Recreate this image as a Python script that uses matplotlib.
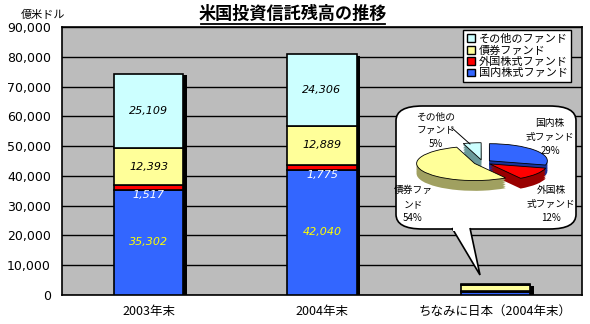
import matplotlib
matplotlib.use("Agg")
import matplotlib.pyplot as plt
from matplotlib.patches import FancyBboxPatch, Polygon, Patch
import numpy as np

plt.rcParams['font.family'] = ['Noto Sans CJK JP', 'DejaVu Sans']

categories = ['2003年末', '2004年末', 'ちなみに日本（2004年末）']
series_names = ['国内株式ファンド', '外国株式ファンド', '債券ファンド', 'その他のファンド']
domestic = [35302, 42040, 1070]
foreign = [1517, 1775, 440]
bond = [12393, 12889, 2000]
other = [25109, 24306, 190]
show_labels = [True, True, False]
colors = ['#3366FF', '#FF0000', '#FFFF99', '#CCFFFF']
label_colors = ['#FFFF00', '#FFFFFF', '#000000', '#000000']

pie_labels = ['国内株\n式ファンド\n29%', '外国株\n式ファンド\n12%', '債券ファ\nンド\n54%', 'その他の\nファンド\n5%']
pie_values = [29, 12, 54, 5]
yticks = [0, 10000, 20000, 30000, 40000, 50000, 60000, 70000, 80000, 90000]

W, H = 590, 324
fig = plt.figure(figsize=(W/100, H/100), dpi=100)
fig.patch.set_facecolor('white')

def fx(px): return px / W
def fy(py): return 1 - py / H

ax = fig.add_axes([fx(62), fy(295), fx(582) - fx(62), fy(27) - fy(295)])
ax.set_facecolor('#bcbcbc')
x = np.arange(len(categories))
width = 0.40
series = [domestic, foreign, bond, other]
totals = np.sum(series, axis=0)

# shadow
ax.bar(x + 0.022, totals - 600, width, bottom=0, color='black', zorder=2)
bottom = np.zeros(len(categories))
for vals, c in zip(series, colors):
    ax.bar(x, vals, width, bottom=bottom, color=c, edgecolor='black', linewidth=1.2, zorder=3)
    bottom += np.array(vals)

# labels
bottom = np.zeros(len(categories))
for si, (vals, lc) in enumerate(zip(series, label_colors)):
    for i in range(len(categories)):
        if not show_labels[i]:
            continue
        v = vals[i]
        if si == 1:
            ax.text(x[i], bottom[i] - 200, f'{v:,}', ha='center', va='top', color=lc,
                    fontsize=8, style='italic', zorder=5, family='DejaVu Sans')
        else:
            ax.text(x[i], bottom[i] + v / 2, f'{v:,}', ha='center', va='center', color=lc,
                    fontsize=8, style='italic', zorder=5, family='DejaVu Sans')
    bottom += np.array(vals)

ax.set_xlim(-0.5, 2.5)
ax.set_ylim(0, 90000)
ax.set_yticks(yticks)
ax.set_yticklabels([f'{t:,}' for t in yticks], fontsize=9, family='DejaVu Sans')
ax.set_xticks(x)
ax.set_xticklabels(categories, fontsize=9)
ax.tick_params(length=0, pad=8)
ax.tick_params(axis='x', pad=7)
ax.yaxis.grid(True, color='black', linewidth=1, zorder=1)
ax.set_axisbelow(True)
for s in ax.spines.values():
    s.set_color('black')
    s.set_linewidth(1.2)

fig.text(fx(293), fy(14), '米国投資信託残高の推移', ha='center', va='center',
         fontsize=12.3, fontweight='bold')
fig.text(fx(21), fy(15), '億米ドル', ha='left', va='center', fontsize=8)
# title underline
fig.add_artist(plt.Line2D([fx(201), fx(385)], [fy(24), fy(24)], color='black', linewidth=1.3))

# legend
handles = [Patch(facecolor=colors[i], edgecolor='black', label=series_names[i]) for i in [3, 2, 1, 0]]
leg = fig.legend(handles=handles, loc='upper left', bbox_to_anchor=(fx(463), fy(30)),
                 fontsize=8, frameon=True, fancybox=False, edgecolor='black', facecolor='white',
                 framealpha=1, handlelength=0.7, handleheight=0.7, handletextpad=0.35, borderpad=0.35,
                 labelspacing=0.12, borderaxespad=0)
leg.get_frame().set_linewidth(1)

# speech bubble
bub = FancyBboxPatch((fx(396), fy(229)), fx(576) - fx(396), fy(106) - fy(229),
                     boxstyle='round,pad=0,rounding_size=0.045', transform=fig.transFigure,
                     facecolor='white', edgecolor='black', linewidth=1.2, zorder=10)
fig.add_artist(bub)
tail = Polygon([(fx(452), fy(228)), (fx(480), fy(275)), (fx(470), fy(228))], closed=False,
               transform=fig.transFigure, facecolor='white', edgecolor='black', linewidth=1.2, zorder=11)
fig.add_artist(tail)
cover = Polygon([(fx(453), fy(227)), (fx(469), fy(227)), (fx(469), fy(231)), (fx(453), fy(231))],
                transform=fig.transFigure, facecolor='white', edgecolor='none', zorder=12)
fig.add_artist(cover)

# pie (pseudo 3D)
pax = fig.add_axes([fx(410), fy(200), fx(555) - fx(410), fy(135) - fy(200)], zorder=13)
pax.set_facecolor('none')
explode = [0.15, 0.15, 0.15, 0.15]
dark = ['#1a3399', '#990000', '#a0a060', '#6a9a9a']
for k in range(6, 0, -1):
    pax.pie(pie_values, colors=dark, startangle=90, counterclock=False, explode=explode,
            center=(0, -0.1 * k), wedgeprops=dict(edgecolor='none'), radius=1)
pax.pie(pie_values, colors=colors, startangle=90, counterclock=False, explode=explode,
        wedgeprops=dict(edgecolor='black', linewidth=0.6), radius=1)
pax.set_aspect('auto')
pax.set_xlim(-1.25, 1.25)
pax.set_ylim(-2.2, 1.6)
pax.axis('off')

fig.text(fx(550), fy(137), pie_labels[0], ha='center', va='center', fontsize=7, zorder=14, linespacing=1.45)
fig.text(fx(551), fy(204), pie_labels[1], ha='center', va='center', fontsize=7, zorder=14, linespacing=1.45)
fig.text(fx(413), fy(204), pie_labels[2], ha='center', va='center', fontsize=7, zorder=14, linespacing=1.45)
fig.text(fx(436), fy(130), pie_labels[3], ha='center', va='center', fontsize=7, zorder=14, linespacing=1.45)
fig.add_artist(plt.Line2D([fx(452), fx(470)], [fy(128), fy(144)], color='black', linewidth=0.7, zorder=14))

fig.savefig('out.png', dpi=100)
